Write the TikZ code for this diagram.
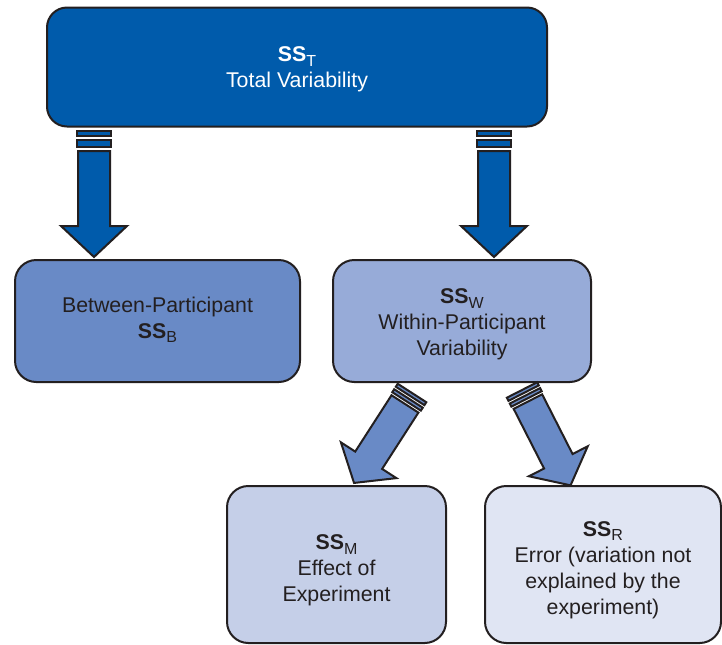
\documentclass[tikz,border=0pt]{standalone}
\usepackage{fontspec}
\setmainfont{Liberation Sans}
\definecolor{topblue}{RGB}{0,91,171}
\definecolor{midblue}{RGB}{105,138,198}
\definecolor{wblue}{RGB}{151,171,216}
\definecolor{mblue}{RGB}{197,207,232}
\definecolor{rblue}{RGB}{224,229,243}
\definecolor{outl}{RGB}{35,31,32}
\newcommand\SSs[1]{\textbf{SS}\raisebox{-0.4ex}{\fontsize{12}{12}\selectfont #1}}
\newcommand\vblockarrow[3]{%
  \begin{scope}[shift={(#1)},rotate=#2]
    \draw[arrowline,fill=#3] (-17,0) rectangle (17,5);
    \draw[arrowline,fill=#3] (-17,9) rectangle (17,16);
    \draw[arrowline,fill=#3] (-16,20) -- (16,20) -- (16,95) -- (33,95) -- (0,126) -- (-33,95) -- (-16,95) -- cycle;
  \end{scope}}
\newcommand\dblockarrow[3]{%
  \begin{scope}[shift={(#1)},rotate=#2]
    \draw[arrowline,fill=#3] (-17,0) rectangle (17,3.5);
    \draw[arrowline,fill=#3] (-17,6.5) rectangle (17,10);
    \draw[arrowline,fill=#3] (-16,13) -- (16,13) -- (16,80) -- (33,80) -- (0,107) -- (-33,80) -- (-16,80) -- cycle;
  \end{scope}}
\begin{document}
\begin{tikzpicture}[x=0.75pt,y=-0.75pt,
  box/.style={draw=outl, line width=1.5pt, rounded corners=16pt, inner sep=0pt},
  txt/.style={align=center, font=\fontsize{16}{19.5}\selectfont, text=outl, inner sep=0pt},
  arrowline/.style={draw=outl, line width=1.5pt, line join=miter}]
\useasboundingbox (0,0) rectangle (722,644);
\fill[white] (0,0) rectangle (722,644);

\node[box, fill=topblue, rounded corners=15pt,
  minimum width=375pt, minimum height=89.25pt] (tot) at (297,67) {};
\node[box, fill=midblue, minimum width=213.75pt, minimum height=91.5pt] (btw) at (157.5,321) {};
\node[box, fill=wblue, minimum width=193.5pt, minimum height=91.5pt] (wth) at (462,321) {};
\node[box, fill=mblue, minimum width=164.25pt, minimum height=117.75pt] (eff) at (336.5,564.5) {};
\node[box, fill=rblue, minimum width=177pt, minimum height=117.75pt] (err) at (603,564.5) {};

\node[txt, text=white] (totT) at ([yshift=-2pt]tot.center) {\SSs{T}\\Total Variability};
\node[txt] (btwT) at ([yshift=1pt]btw.center) {Between-Participant\\\SSs{B}};
\node[txt] (wthT) at ([yshift=-2.5pt]wth.center) {\SSs{W}\\Within-Participant\\Variability};
\node[txt] (effT) at ([yshift=-4.5pt]eff.center) {\SSs{M}\\Effect of\\Experiment};
\node[txt] (errT) at ([yshift=-4pt]err.center) {\SSs{R}\\Error (variation not\\explained by the\\experiment)};

\coordinate (a1) at (94,131);
\coordinate (a2) at (494,131);
\coordinate (a3) at (412,393);
\coordinate (a4) at (522,390);
\vblockarrow{a1}{0}{topblue}
\vblockarrow{a2}{0}{topblue}
\dblockarrow{a3}{-32.8}{midblue}
\dblockarrow{a4}{27}{midblue}
\end{tikzpicture}
\end{document}
